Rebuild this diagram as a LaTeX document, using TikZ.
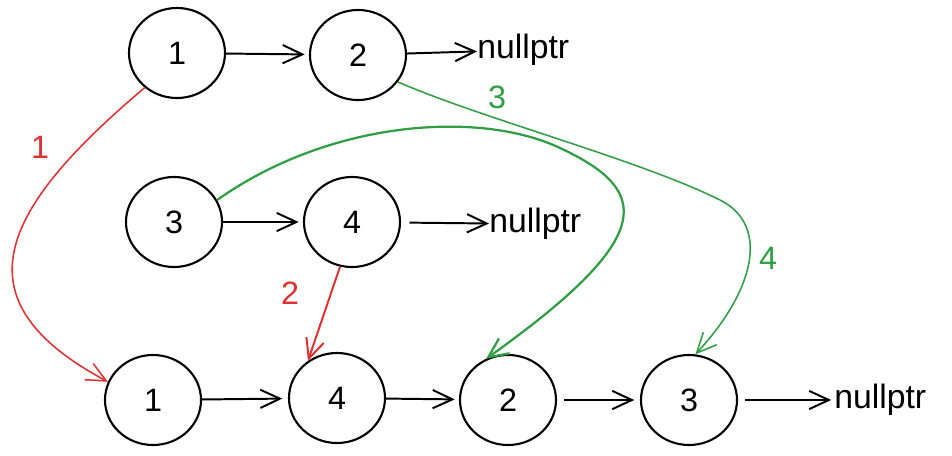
\documentclass[tikz,border=0pt]{standalone}
\usepackage{fontspec}
\setmainfont{Liberation Sans}
\usetikzlibrary{shapes.geometric, arrows.meta}

\definecolor{exred}{HTML}{E03131}
\definecolor{exgreen}{HTML}{2F9E44}

\begin{document}
\begin{tikzpicture}[x=0.025cm, y=-0.025cm,
    listnode/.style={ellipse, draw, line width=1.5pt, minimum width=2.4cm, minimum height=2.25cm,
        font=\fontsize{23}{27}\selectfont},
    nulltext/.style={anchor=west, inner sep=0pt, font=\fontsize{24}{28}\selectfont},
    link/.style={-{Straight Barb[length=14pt,width=13pt]}, line width=1.4pt},
    steparrow/.style={-{Straight Barb[length=14pt,width=13pt]}},
    steplabel/.style={font=\fontsize{23}{27}\selectfont}]
\useasboundingbox (0,0) rectangle (952,455);
%\draw[help lines, step=50] (0,0) grid (952,455);

% list one
\node [listnode] (t1) at (177,53) {1};
\node [listnode] (t2) at (358,55) {2};
\node [nulltext] (tnull) at (477,50) {nullptr};
% list two
\node [listnode] (m3) at (174,222) {3};
\node [listnode] (m4) at (352,222) {4};
\node [nulltext] (mnull) at (489,224) {nullptr};
% merged list
\node [listnode] (b1) at (153,400) {1};
\node [listnode] (b4) at (337,398) {4};
\node [listnode] (b2) at (508,400) {2};
\node [listnode] (b3) at (689,400) {3};
\node [nulltext] (bnull) at (834,400) {nullptr};

\draw [link, shorten >=3pt] (t1) -- (t2);
\draw [link] (t2) -- (tnull);
\draw [link, shorten >=3pt] (m3) -- (m4);
\draw [link, shorten <=6pt] (m4) -- (mnull);
\draw [link, shorten >=4pt] (b1) -- (b4);
\draw [link, shorten >=3pt] (b4) -- (b2);
\draw [link, shorten <=5pt, shorten >=4pt] (b2) -- (b3);
\draw [link, shorten <=5pt, shorten >=2pt] (b3) -- (bnull);

% red steps
\draw [steparrow, exred, line width=1.1pt] (t1.227) .. controls (0,210) and (-45,300) .. (b1.158);
\draw [steparrow, exred, line width=1.4pt] (m4.255) -- (b4.128);
\node [steplabel, exred] (s1) at (40,147) {1};
\node [steplabel, exred] (s2) at (290,293) {2};

% green steps
\draw [steparrow, exgreen, line width=1.6pt] (m3.27) .. controls (330,120) and (480,110) .. (560,148)
    .. controls (650,190) and (660,235) .. (b2.118);
\draw [steparrow, exgreen, line width=1.1pt] (t2.-34) .. controls (480,118) and (640,160) .. (720,200)
    .. controls (770,225) and (755,290) .. (b3.82);
\node [steplabel, exgreen] (s3) at (497,97) {3};
\node [steplabel, exgreen] (s4) at (768,258) {4};
\end{tikzpicture}
\end{document}
